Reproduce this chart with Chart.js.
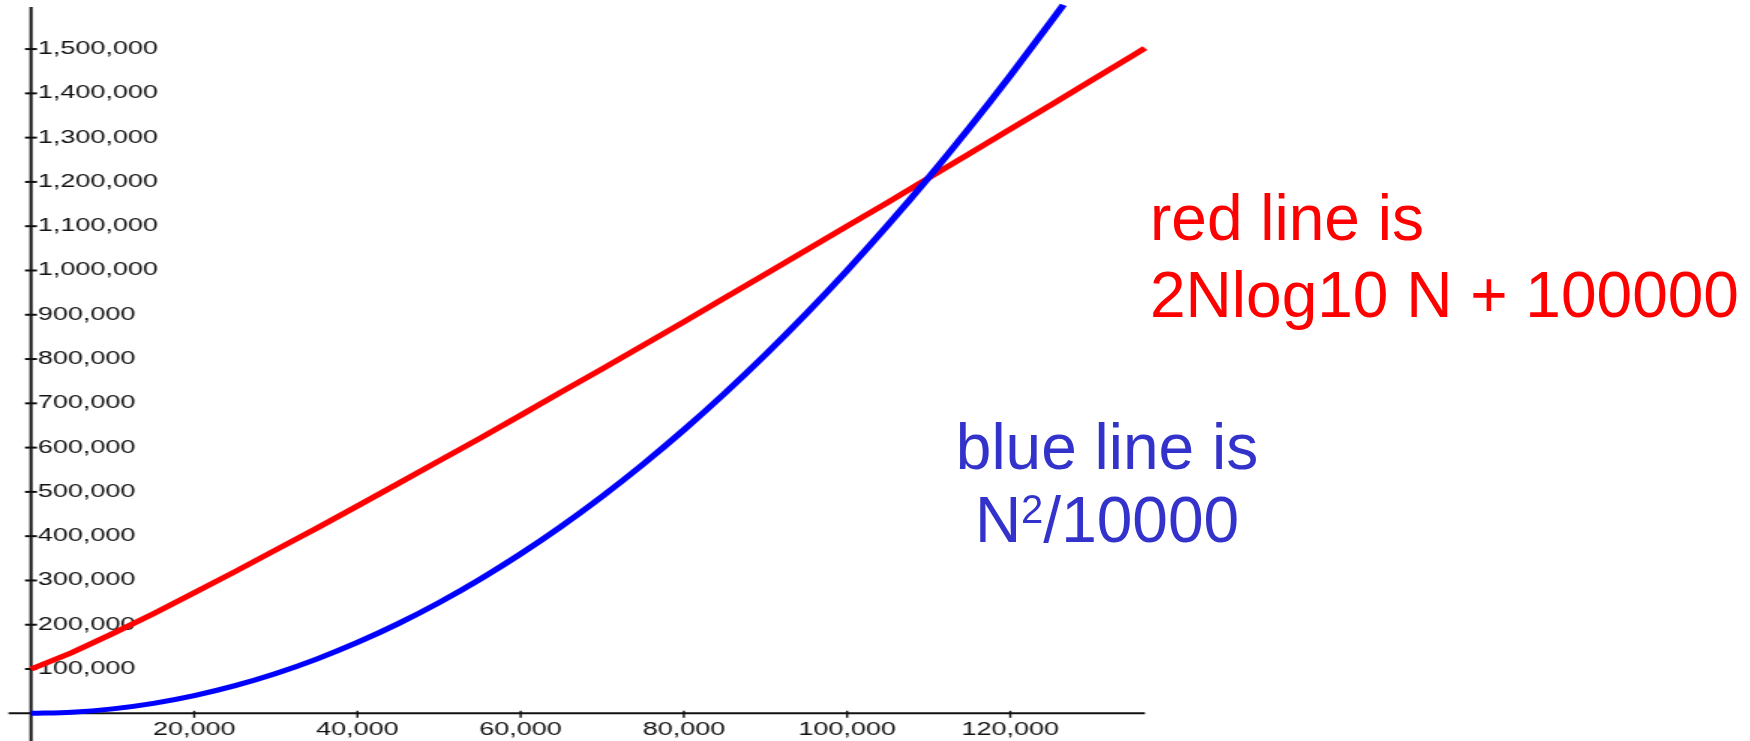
<!DOCTYPE html>
<html>
<head>
<meta charset="utf-8">
<script src="https://cdn.jsdelivr.net/npm/chart.js@4"></script>
<style>
    html, body { margin: 0; padding: 0; background: #fff; }
    body { width: 1750px; height: 741px; position: relative; overflow: hidden; }
    #wrap { position: absolute; left: 0; top: 0; width: 800px; height: 741px; transform: scaleX(1.5); transform-origin: 0 0; }
    .note { position: absolute; font-family: 'Liberation Sans', Arial, sans-serif; font-size: 64px; white-space: nowrap; }
    #redNote { left: 1150px; top: 180px; line-height: 77px; color: #ff0000; }
    #blueNote { left: 907px; top: 411px; width: 400px; text-align: center; line-height: 73px; color: #3333cc; }
    #blueNote span { font-size: 40px; vertical-align: 19px; line-height: 0; }
</style>
</head>
<body>
<div id="wrap"><canvas id="growthChart" width="800" height="741"></canvas></div>
<div class="note" id="redNote">red line is<br>2Nlog10 N + 100000</div>
<div class="note" id="blueNote">blue line is<br>N<span>2</span>/10000</div>
<script>
// N values read along the x axis
const redN = [0, 5000, 10000, 15000, 20000, 25000, 30000, 35000, 40000, 45000, 50000, 55000, 60000, 65000,
    70000, 75000, 80000, 85000, 90000, 95000, 100000, 105000, 110000, 115000, 120000, 125000, 130000, 135000, 136500];
const redValues = [100000, 137000, 180000, 225000, 272000, 320000, 369000, 418000, 468000, 519000, 570000, 621000, 673000, 726000,
    778000, 831000, 884000, 938000, 992000, 1046000, 1100000, 1154000, 1209000, 1264000, 1319000, 1374000, 1430000, 1485000, 1502000];

const blueN = [0, 5000, 10000, 15000, 20000, 25000, 30000, 35000, 40000, 45000, 50000, 55000, 60000, 65000,
    70000, 75000, 80000, 85000, 90000, 95000, 100000, 105000, 110000, 115000, 120000, 125000, 126500];
const blueValues = [0, 2500, 10000, 22500, 40000, 62500, 90000, 122500, 160000, 202500, 250000, 302500, 360000, 422500,
    490000, 562500, 640000, 722500, 810000, 902500, 1000000, 1102500, 1210000, 1322500, 1440000, 1562500, 1600000];

// tick positions
const xTicks = [20000, 40000, 60000, 80000, 100000, 120000];
const yTicks = [100000, 200000, 300000, 400000, 500000, 600000, 700000, 800000, 900000, 1000000,
    1100000, 1200000, 1300000, 1400000, 1500000];

// axis ranges
const xMax = 136500;
const yMax = 1595000;

const tickFont = { family: "'Liberation Sans', Arial, sans-serif", size: 18 };

// Axes cross at the origin, with tick marks through the line
const crossAxes = {
    id: 'crossAxes',
    beforeDatasetsDraw(chart) {
        const { ctx, chartArea, scales: { x, y } } = chart;
        const x0 = x.getPixelForValue(0);
        const y0 = y.getPixelForValue(0);
        ctx.save();
        ctx.strokeStyle = '#111';
        ctx.lineWidth = 2;
        ctx.beginPath();
        ctx.moveTo(chartArea.left - 15, y0);
        ctx.lineTo(chartArea.right, y0);
        ctx.moveTo(x0, chartArea.top);
        ctx.lineTo(x0, chart.height);
        ctx.stroke();

        y.ticks.forEach(t => {
            const py = y.getPixelForValue(t.value);
            ctx.beginPath();
            ctx.moveTo(x0 - 4, py);
            ctx.lineTo(x0 + 4, py);
            ctx.stroke();
        });
        ctx.lineWidth = 1.4;
        x.ticks.forEach(t => {
            const px = x.getPixelForValue(t.value);
            ctx.beginPath();
            ctx.moveTo(px, y0 - 2.5);
            ctx.lineTo(px, y0 + 4.5);
            ctx.stroke();
        });
        ctx.restore();
    }
};

const toPoints = (xs, ys) => xs.map((n, i) => ({ x: n, y: ys[i] }));

new Chart(document.getElementById('growthChart'), {
    type: 'line',
    data: {
        datasets: [
            {
                label: 'N^2/10000',
                data: toPoints(blueN, blueValues),
                borderColor: '#0000ff',
                borderWidth: 5,
                pointRadius: 0,
                cubicInterpolationMode: 'monotone',
                clip: false
            },
            {
                label: '2Nlog10 N + 100000',
                data: toPoints(redN, redValues),
                borderColor: '#ff0000',
                borderWidth: 5,
                pointRadius: 0,
                clip: false
            }
        ]
    },
    options: {
        responsive: false,
        devicePixelRatio: 1,
        animation: false,
        layout: { padding: { left: 20.67, right: 36.7, top: 7, bottom: 0 } },
        plugins: {
            legend: { display: false },
            tooltip: { enabled: false }
        },
        scales: {
            x: {
                type: 'linear',
                min: 0,
                max: xMax,
                border: { display: false },
                grid: { display: false, drawTicks: false },
                afterBuildTicks: scale => { scale.ticks = xTicks.map(v => ({ value: v })); },
                ticks: {
                    autoSkip: false,
                    maxRotation: 0,
                    padding: 6,
                    color: '#111',
                    font: tickFont,
                    callback: v => v.toLocaleString('en-US')
                },
                afterFit: scale => {
                    scale.height = 27.7;
                    scale.paddingLeft = 0;
                    scale.paddingRight = 0;
                }
            },
            y: {
                min: 0,
                max: yMax,
                border: { display: false },
                grid: { display: false, drawTicks: false },
                afterBuildTicks: scale => { scale.ticks = yTicks.map(v => ({ value: v })); },
                ticks: {
                    autoSkip: false,
                    mirror: true,
                    padding: 4.5,
                    color: '#111',
                    font: tickFont,
                    callback: v => v.toLocaleString('en-US')
                },
                afterFit: scale => {
                    scale.width = 0;
                    scale.paddingTop = 0;
                    scale.paddingBottom = 0;
                }
            }
        }
    },
    plugins: [crossAxes]
});
</script>
</body>
</html>
